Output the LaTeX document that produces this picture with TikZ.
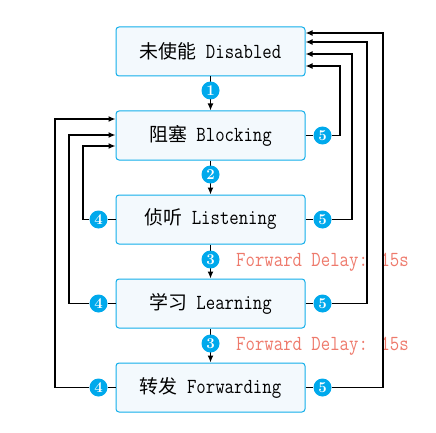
\documentclass[tikz,border=0pt]{standalone}
\usepackage{fontspec}
\newfontfamily\cjk{Noto Sans CJK SC}[Scale=0.88]
\newfontfamily\monotext{Latin Modern Mono}[FakeStretch=0.85]
\usetikzlibrary{positioning,calc,arrows.meta}
\definecolor{boxline}{HTML}{12AEEA}
\definecolor{boxfill}{HTML}{F3F9FD}
\definecolor{numfill}{HTML}{00A9EC}
\definecolor{delayred}{HTML}{EE7A6C}

\begin{document}
\begin{tikzpicture}
    [x=1pt,y=-1pt,>={Latex[length=7pt,width=6pt]},
     state/.style={draw=boxline,fill=boxfill,line width=1pt,rounded corners=3pt,
         minimum width=189pt,minimum height=49pt,font=\monotext\fontsize{21.5}{24}\selectfont},
     num/.style={circle,fill=numfill,text=white,inner sep=0pt,minimum size=18pt,
         font=\rmfamily\bfseries\fontsize{15}{15}\selectfont},
     delay/.style={text=delayred,inner sep=0pt,anchor=west,font=\monotext\fontsize{21.5}{24}\selectfont},
     wire/.style={line width=1.6pt},
     link/.style={wire,->}]

    \useasboundingbox (0,0) rectangle (436,433);

    \node[state] (dis) at (210.5,51.5) {{\cjk 未使能} Disabled};
    \node[state,below=34pt of dis] (blk) {{\cjk 阻塞} Blocking};
    \node[state,below=34pt of blk] (lst) {{\cjk 侦听} Listening};
    \node[state,below=34pt of lst] (lrn) {{\cjk 学习} Learning};
    \node[state,below=34pt of lrn] (fwd) {{\cjk 转发} Forwarding};

    \draw[link] (dis) -- (blk);
    \draw[link] (blk) -- (lst);
    \draw[link] (lst) -- (lrn);
    \draw[link] (lrn) -- (fwd);

    \node[num] (n1) at ($(dis.south)+(0,14)$) {1};
    \node[num] (n2) at ($(blk.south)+(0,14)$) {2};
    \node[num] (n3) at ($(lst.south)+(0,15)$) {3};
    \node[num] (n4) at ($(lrn.south)+(0,15)$) {3};

    \node[delay] (d1) at (236,262) {Forward Delay: 15s};
    \node[delay] (d2) at (236,346) {Forward Delay: 15s};

    % back to disabled
    \node[num] (r1) at ($(blk.east)+(17,0)$) {5};
    \node[num] (r2) at ($(lst.east)+(17,0)$) {5};
    \node[num] (r3) at ($(lrn.east)+(17,0)$) {5};
    \node[num] (r4) at ($(fwd.east)+(17,0)$) {5};
    \draw[wire] (blk) -- (r1);
    \draw[wire] (lst) -- (r2);
    \draw[wire] (lrn) -- (r3);
    \draw[wire] (fwd) -- (r4);
    \draw[link] (r1) -| (340,66) -- (dis.east |- 340,66);
    \draw[link] (r2) -| (352,54) -- (dis.east |- 352,54);
    \draw[link] (r3) -| (367,42) -- (dis.east |- 367,42);
    \draw[link] (r4) -| (383,33) -- (dis.east |- 383,33);

    % back to blocking
    \node[num] (l1) at ($(lst.west)+(-17,0)$) {4};
    \node[num] (l2) at ($(lrn.west)+(-17,0)$) {4};
    \node[num] (l3) at ($(fwd.west)+(-17,0)$) {4};
    \draw[wire] (lst) -- (l1);
    \draw[wire] (lrn) -- (l2);
    \draw[wire] (fwd) -- (l3);
    \draw[link] (l1) -| (83,146) -- (blk.west |- 83,146);
    \draw[link] (l2) -| (69,135) -- (blk.west |- 69,135);
    \draw[link] (l3) -| (55,119) -- (blk.west |- 55,119);

\end{tikzpicture}
\end{document}
